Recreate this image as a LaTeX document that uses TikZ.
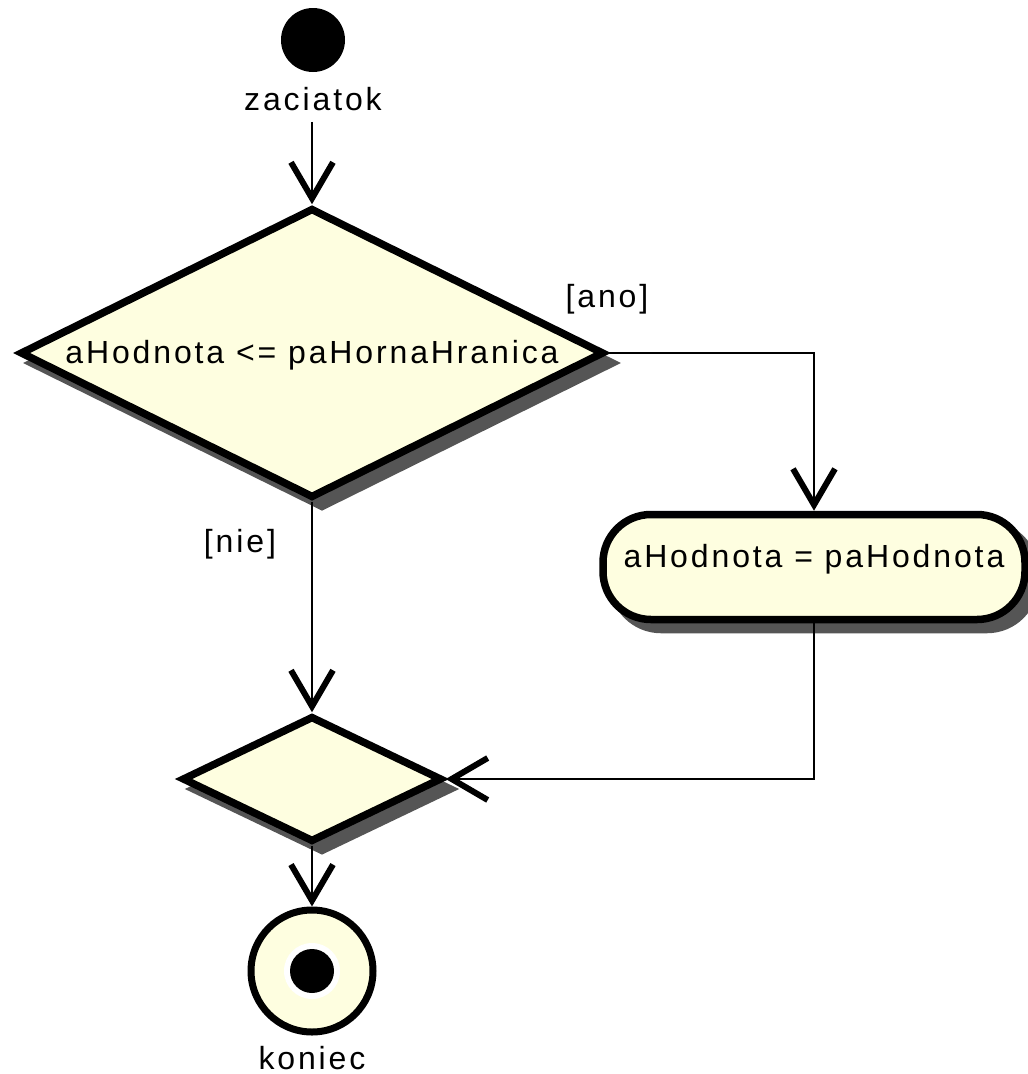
\documentclass[tikz,border=0pt]{standalone}
\usepackage{fontspec}
\setmainfont{Liberation Sans}[LetterSpace=9]
\usetikzlibrary{shapes.geometric,shadows,arrows.meta}
\definecolor{actfill}{RGB}{254,254,224}
\definecolor{shadowgray}{RGB}{85,85,85}

\begin{document}
\begin{tikzpicture}[x=1pt,y=-1pt,
  every node/.style={font=\fontsize{32}{38}\selectfont},
  boxshadow/.style={drop shadow={shadow xshift=10pt,shadow yshift=-10pt,
      fill=shadowgray,draw=shadowgray,line width=7.5pt,opacity=1}},
  decision/.style={diamond, draw, line width=7.5pt, fill=actfill,
      inner sep=0pt, aspect=2.01, boxshadow},
  action/.style={rectangle, rounded corners=48pt, draw, line width=7.5pt,
      fill=actfill, inner sep=0pt, boxshadow},
  flow/.style={line width=2.5pt,
      -{Straight Barb[length=36pt,width=42pt,line width=6pt]}},
  guard/.style={anchor=base},
]
\useasboundingbox (0,0) rectangle (1028,1074);

% initial node
\node[circle, fill=black, minimum size=64pt, inner sep=0pt] (start) at (313,40) {};
\node[anchor=base] (startlbl) at (313,110) {zaciatok};

% decision
\node[decision, minimum width=584pt, minimum height=290pt,
      text height=22pt, text depth=2pt] (dec) at (312,353) {aHodnota <= paHornaHranica};

% action
\node[action, minimum width=422pt, minimum height=105pt,
      text height=52pt, text depth=52pt] (act) at (814,567) {aHodnota = paHodnota};

% merge
\node[decision, minimum width=260pt, minimum height=126pt] (merge) at (312,779) {};

% final node
\node[circle, draw, line width=7pt, fill=actfill, minimum size=122pt, inner sep=0pt,
      path picture={
        \fill[white] (path picture bounding box.center) circle (28pt);
        \fill[black] (path picture bounding box.center) circle (22pt);
      }] (end) at (312,971) {};
\node[anchor=base] (endlbl) at (312,1069) {koniec};

% guards
\node[guard] (ano) at (607,307) {[ano]};
\node[guard] (nie) at (240,552) {[nie]};

% control flows
\draw[flow, shorten <=8pt] (startlbl.south -| dec.north) -- (dec.north);
\draw[flow] (dec.east) -| (act.north);
\draw[flow] (dec.south) -- (merge.north);
\draw[flow] (act.south) |- (merge.east);
\draw[flow] (merge.south) -- (end.north);
\end{tikzpicture}
\end{document}
